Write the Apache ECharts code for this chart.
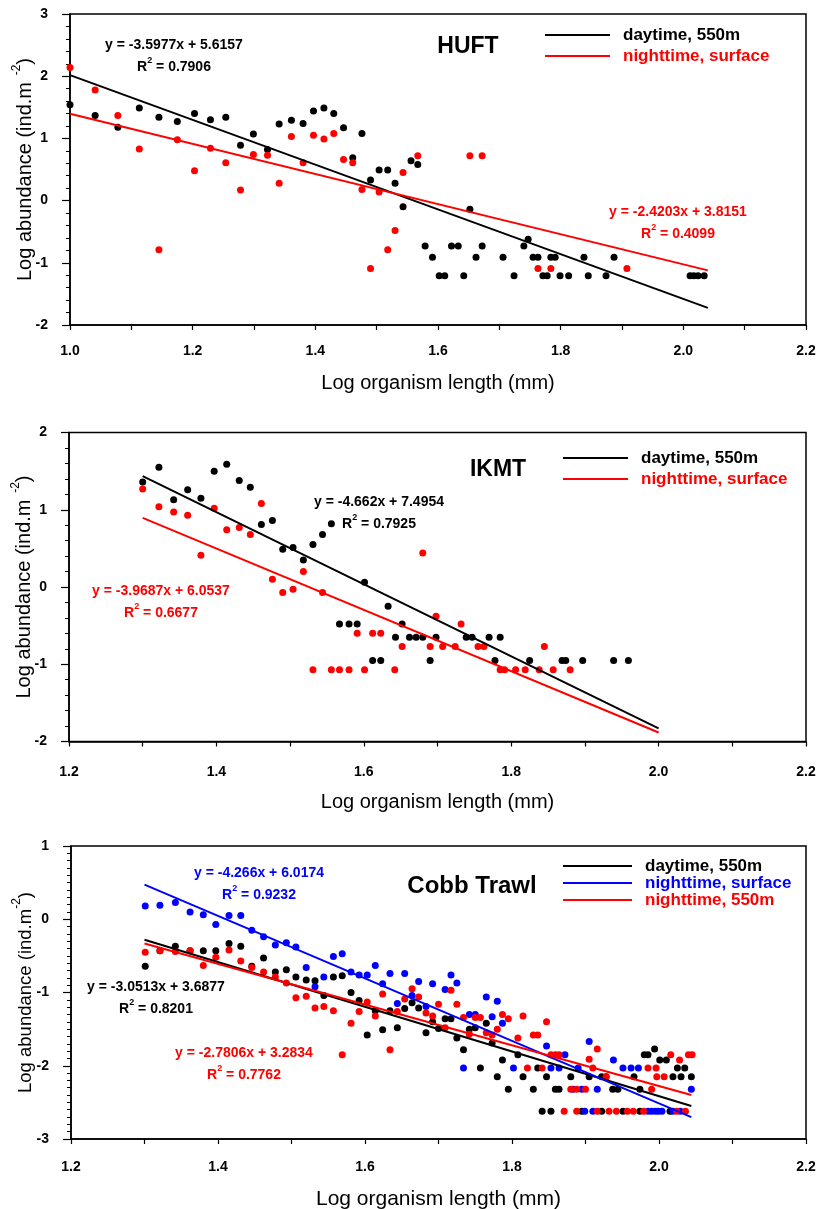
<!DOCTYPE html>
<html><head><meta charset="utf-8">
<script src="https://cdn.jsdelivr.net/npm/echarts@6/dist/echarts.min.js"></script>
<style>html,body{margin:0;padding:0;background:#fff}#c{width:822px;height:1209px}</style>
</head><body><div id="c"></div>
<script>
const FONT = '"Liberation Sans", Arial, sans-serif';
const BLACK = '#000000', RED = '#ff0000', BLUE = '#0000ff';

// ---------- tick labels / names ----------
const xTickLabels = ['1.0','1.2','1.4','1.6','1.8','2.0','2.2'];
const panelTitles = ['HUFT', 'IKMT', 'Cobb Trawl'];
const legendNames = ['daytime, 550m', 'nighttime, surface', 'nighttime, 550m'];

// ---------- HUFT ----------
const huftDay = [[1.000,1.54],[1.041,1.37],[1.078,1.18],[1.113,1.49],[1.145,1.34],[1.175,1.27],[1.203,1.40],[1.229,1.30],[1.254,1.34],[1.278,0.89],[1.299,1.07],[1.322,0.82],[1.341,1.23],[1.361,1.29],[1.380,1.24],[1.397,1.44],[1.414,1.49],[1.430,1.40],[1.446,1.17],[1.461,0.69],[1.476,1.08],[1.490,0.33],[1.504,0.49],[1.518,0.49],[1.530,0.28],[1.543,-0.10],[1.556,0.64],[1.567,0.58],[1.579,-0.73],[1.591,-0.91],[1.602,-1.21],[1.611,-1.21],[1.622,-0.73],[1.633,-0.73],[1.642,-1.21],[1.652,-0.14],[1.662,-0.91],[1.672,-0.73],[1.706,-0.91],[1.724,-1.21],[1.740,-0.73],[1.747,-0.62],[1.755,-0.91],[1.763,-0.91],[1.771,-1.21],[1.778,-1.21],[1.784,-0.91],[1.791,-0.91],[1.799,-1.21],[1.813,-1.21],[1.838,-0.91],[1.845,-1.21],[1.874,-1.21],[1.887,-0.91],[2.011,-1.21],[2.017,-1.21],[2.024,-1.21],[2.034,-1.21]];
const huftNight = [[1.000,2.14],[1.041,1.78],[1.078,1.37],[1.113,0.83],[1.145,-0.79],[1.175,0.98],[1.203,0.48],[1.229,0.84],[1.254,0.61],[1.278,0.17],[1.299,0.74],[1.322,0.73],[1.341,0.28],[1.361,1.03],[1.380,0.61],[1.397,1.05],[1.414,0.99],[1.430,1.08],[1.446,0.66],[1.461,0.61],[1.476,0.18],[1.490,-1.09],[1.504,0.14],[1.518,-0.79],[1.530,-0.48],[1.543,0.45],[1.567,0.72],[1.652,0.72],[1.672,0.72],[1.763,-1.09],[1.784,-1.09],[1.908,-1.09]];
const huftDayFit = [[1.00,2.018],[2.04,-1.724]];
const huftNightFit = [[1.00,1.395],[2.04,-1.122]];

// ---------- IKMT ----------
const ikmtDay = [[1.300,1.36],[1.322,1.55],[1.342,1.13],[1.361,1.26],[1.379,1.15],[1.397,1.50],[1.414,1.59],[1.431,1.38],[1.446,1.29],[1.461,0.81],[1.476,0.86],[1.490,0.49],[1.504,0.51],[1.518,0.35],[1.531,0.55],[1.544,0.68],[1.556,0.82],[1.567,-0.48],[1.580,-0.48],[1.591,-0.48],[1.601,0.06],[1.612,-0.95],[1.623,-0.95],[1.633,-0.25],[1.643,-0.65],[1.652,-0.48],[1.662,-0.65],[1.671,-0.65],[1.680,-0.65],[1.690,-0.95],[1.698,-0.65],[1.739,-0.65],[1.747,-0.65],[1.770,-0.65],[1.778,-0.95],[1.785,-0.65],[1.825,-0.95],[1.869,-0.95],[1.874,-0.95],[1.897,-0.95],[1.939,-0.95],[1.959,-0.95]];
const ikmtNight = [[1.300,1.27],[1.322,1.04],[1.342,0.97],[1.361,0.93],[1.379,0.41],[1.397,1.02],[1.414,0.74],[1.431,0.77],[1.446,0.68],[1.461,1.08],[1.476,0.10],[1.490,-0.07],[1.504,-0.03],[1.518,0.20],[1.531,-1.07],[1.544,-0.07],[1.556,-1.07],[1.567,-1.07],[1.580,-1.07],[1.591,-0.60],[1.601,-1.07],[1.612,-0.60],[1.623,-0.60],[1.642,-1.07],[1.652,-0.77],[1.680,0.44],[1.690,-0.77],[1.698,-0.38],[1.707,-0.77],[1.724,-0.77],[1.732,-0.48],[1.755,-0.77],[1.763,-0.77],[1.785,-1.07],[1.791,-1.07],[1.806,-1.07],[1.819,-1.07],[1.838,-1.07],[1.845,-0.77],[1.857,-1.07],[1.880,-1.07]];
const ikmtDayFit = [[1.30,1.435],[2.00,-1.829]];
const ikmtNightFit = [[1.30,0.894],[2.00,-1.884]];

// ---------- Cobb Trawl ----------
const cobbDay = [[1.301,-0.64],[1.321,-0.43],[1.342,-0.37],[1.362,-0.43],[1.380,-0.43],[1.397,-0.43],[1.415,-0.33],[1.431,-0.37],[1.446,-0.64],[1.462,-0.53],[1.478,-0.72],[1.493,-0.69],[1.506,-0.79],[1.520,-0.83],[1.532,-0.84],[1.544,-1.04],[1.557,-0.79],[1.569,-0.77],[1.581,-1.00],[1.592,-1.11],[1.603,-1.58],[1.614,-1.25],[1.624,-1.51],[1.634,-1.25],[1.644,-1.48],[1.654,-1.22],[1.664,-1.14],[1.673,-1.21],[1.683,-1.55],[1.692,-1.40],[1.700,-1.49],[1.709,-1.36],[1.717,-1.36],[1.725,-1.62],[1.734,-1.78],[1.742,-1.50],[1.750,-1.48],[1.757,-2.03],[1.765,-1.42],[1.773,-1.69],[1.780,-2.15],[1.787,-1.92],[1.795,-2.32],[1.808,-1.85],[1.815,-2.15],[1.829,-2.32],[1.835,-2.03],[1.841,-2.62],[1.847,-2.15],[1.853,-2.62],[1.859,-2.32],[1.864,-2.32],[1.880,-2.15],[1.895,-2.62],[1.905,-2.15],[1.922,-2.62],[1.922,-2.15],[1.928,-2.15],[1.937,-2.32],[1.944,-2.32],[1.951,-2.62],[1.966,-2.15],[1.974,-2.32],[1.974,-2.62],[1.980,-1.85],[1.985,-1.85],[1.994,-1.77],[2.001,-1.92],[2.010,-1.92],[2.015,-2.62],[2.019,-2.15],[2.025,-2.03],[2.030,-2.15],[2.035,-2.03],[2.044,-2.15]];
const cobbNightSurf = [[1.301,0.18],[1.321,0.19],[1.342,0.23],[1.362,0.10],[1.380,0.06],[1.397,-0.07],[1.415,0.05],[1.431,0.05],[1.446,-0.15],[1.462,-0.24],[1.478,-0.35],[1.493,-0.32],[1.506,-0.38],[1.520,-0.66],[1.532,-0.92],[1.544,-0.79],[1.557,-0.51],[1.569,-0.47],[1.581,-0.72],[1.592,-0.76],[1.603,-0.76],[1.614,-0.63],[1.624,-0.88],[1.634,-0.74],[1.644,-1.15],[1.654,-0.74],[1.664,-1.04],[1.673,-0.85],[1.683,-1.19],[1.692,-0.88],[1.709,-0.96],[1.717,-0.76],[1.725,-0.87],[1.734,-2.03],[1.742,-1.30],[1.750,-1.30],[1.765,-1.06],[1.773,-1.33],[1.780,-1.12],[1.787,-1.42],[1.802,-2.03],[1.847,-1.73],[1.853,-2.03],[1.864,-2.03],[1.872,-1.85],[1.883,-2.32],[1.890,-2.03],[1.895,-2.32],[1.899,-2.62],[1.905,-1.67],[1.910,-2.62],[1.916,-2.32],[1.938,-1.92],[1.951,-2.03],[1.962,-2.03],[1.972,-2.03],[1.985,-2.62],[1.990,-2.62],[1.995,-2.62],[1.999,-2.62],[2.004,-2.62],[2.019,-2.62],[2.029,-2.62],[2.044,-2.32]];
const cobbNight550 = [[1.301,-0.45],[1.321,-0.43],[1.342,-0.44],[1.362,-0.43],[1.380,-0.63],[1.397,-0.52],[1.415,-0.42],[1.431,-0.57],[1.446,-0.66],[1.462,-0.72],[1.478,-0.79],[1.493,-0.87],[1.506,-1.07],[1.520,-1.05],[1.532,-1.21],[1.544,-1.19],[1.557,-1.25],[1.569,-1.85],[1.581,-1.42],[1.592,-1.26],[1.603,-1.13],[1.614,-1.32],[1.624,-1.02],[1.634,-1.78],[1.644,-1.26],[1.654,-1.09],[1.664,-0.95],[1.673,-1.06],[1.683,-1.28],[1.692,-1.32],[1.700,-1.16],[1.709,-1.48],[1.717,-0.97],[1.725,-1.16],[1.734,-1.34],[1.742,-1.57],[1.750,-1.34],[1.757,-1.34],[1.765,-1.55],[1.773,-1.58],[1.780,-1.50],[1.787,-1.30],[1.795,-1.36],[1.808,-1.62],[1.815,-1.32],[1.821,-2.03],[1.829,-1.58],[1.835,-1.58],[1.841,-2.03],[1.847,-1.40],[1.853,-1.85],[1.859,-1.85],[1.864,-1.85],[1.871,-2.62],[1.880,-2.32],[1.888,-2.32],[1.888,-2.62],[1.900,-2.32],[1.905,-1.91],[1.910,-2.03],[1.916,-1.77],[1.916,-2.62],[1.928,-2.15],[1.932,-2.62],[1.942,-2.62],[1.957,-2.62],[1.965,-2.62],[1.979,-2.62],[1.985,-2.03],[1.990,-2.32],[1.996,-2.03],[1.997,-2.15],[2.007,-2.15],[2.016,-1.85],[2.024,-2.62],[2.028,-1.92],[2.036,-2.62],[2.040,-1.85],[2.045,-1.85]];
const cobbDayFit = [[1.30,-0.279],[2.044,-2.549]];
const cobbNightSurfFit = [[1.30,0.472],[2.044,-2.702]];
const cobbNight550Fit = [[1.30,-0.331],[2.044,-2.400]];

// ---------- equation annotations ----------
const equations = [
  {t:'y = -3.5977x + 5.6157', r:'0.7906', c:BLACK, x:174, y:45},
  {t:'y = -2.4203x + 3.8151', r:'0.4099', c:RED, x:678, y:212},
  {t:'y = -4.662x + 7.4954', r:'0.7925', c:BLACK, x:379, y:502},
  {t:'y = -3.9687x + 6.0537', r:'0.6677', c:RED, x:161, y:591},
  {t:'y = -4.266x + 6.0174', r:'0.9232', c:BLUE, x:259, y:873},
  {t:'y = -3.0513x + 3.6877', r:'0.8201', c:BLACK, x:156, y:987},
  {t:'y = -2.7806x + 3.2834', r:'0.7762', c:RED, x:244, y:1053}
];

const chart = echarts.init(document.getElementById('c'), null, {renderer:'canvas'});

const grids = [
  {left:70, top:14, width:736, height:311},
  {left:69, top:432.5, width:737, height:309},
  {left:71, top:846, width:735, height:293}
];
const yRanges = [[-2,3,5],[-2,2,5],[-3,1,10]];
const xMins = [1.0, 1.2, 1.2];
const xNameSizes = [20, 20, 21];
const yNameSizes = [20, 20, 18.5];
const xLabelMargins = [19, 24, 21];
const xNameGaps = [48, 51, 50];
const yNameGaps = [35, 35, 36];

function xFmt(v){ const k = Math.round(v*10); return k % 2 === 0 ? (k/10).toFixed(1) : ''; }

const xAxes = grids.map((g,i)=>({
  type:'value', gridIndex:i, min:xMins[i], max:2.2, interval:0.1,
  axisLine:{onZero:false, lineStyle:{color:BLACK, width:1.5}},
  axisTick:{length:5, lineStyle:{color:BLACK, width:1.2}},
  axisLabel:{formatter:xFmt, color:BLACK, fontFamily:FONT, fontWeight:'bold', fontSize:14, margin:xLabelMargins[i], showMinLabel:true, showMaxLabel:true},
  splitLine:{show:false},
  name:'Log organism length (mm)', nameLocation:'middle', nameGap:xNameGaps[i], nameMoveOverlap:false,
  nameTextStyle:{color:BLACK, fontFamily:FONT, fontSize:xNameSizes[i]}
}));
const yAxes = grids.map((g,i)=>({
  type:'value', gridIndex:i, min:yRanges[i][0], max:yRanges[i][1], interval:1,
  axisLine:{onZero:false, lineStyle:{color:BLACK, width:1.5}},
  axisTick:{length:8, lineStyle:{color:BLACK, width:1.2}},
  minorTick:{show:true, splitNumber:yRanges[i][2], length:4, lineStyle:{color:BLACK, width:1}},
  axisLabel:{color:BLACK, fontFamily:FONT, fontWeight:'bold', fontSize:14, margin:22},
  splitLine:{show:false}, minorSplitLine:{show:false},
  name: i<2 ? '{a|Log abundance (ind.m}{s|  -2}{a|)}' : '{a|Log abundance (ind.m}{s|-2}{a|)}',
  nameLocation:'middle', nameGap: yNameGaps[i], nameRotate:90, nameMoveOverlap:false,
  nameTextStyle:{color:BLACK, fontFamily:FONT, rich:{
    a:{fontSize:yNameSizes[i], fontFamily:FONT, color:BLACK, lineHeight:24, verticalAlign:'bottom'},
    s:{fontSize:12, fontFamily:FONT, color:BLACK, lineHeight:14, verticalAlign:'top'}
  }}
}));

function scatter(name, data, color, gi){
  return {type:'scatter', name, data, xAxisIndex:gi, yAxisIndex:gi, symbolSize:7,
    itemStyle:{color, opacity:1}, z:2, silent:true};
}
function fit(name, data, color, gi){
  return {type:'line', name, data, xAxisIndex:gi, yAxisIndex:gi, showSymbol:false, symbol:'none',
    lineStyle:{color, width:2}, itemStyle:{color}, z:3, silent:true};
}

const series = [
  scatter('HUFT day pts', huftDay, BLACK, 0),
  scatter('HUFT night pts', huftNight, RED, 0),
  fit(legendNames[0], huftDayFit, BLACK, 0),
  fit(legendNames[1], huftNightFit, RED, 0),
  scatter('IKMT day pts', ikmtDay, BLACK, 1),
  scatter('IKMT night pts', ikmtNight, RED, 1),
  fit(legendNames[0], ikmtDayFit, BLACK, 1),
  fit(legendNames[1], ikmtNightFit, RED, 1),
  scatter('Cobb day pts', cobbDay, BLACK, 2),
  scatter('Cobb surf pts', cobbNightSurf, BLUE, 2),
  scatter('Cobb 550 pts', cobbNight550, RED, 2),
  fit(legendNames[0], cobbDayFit, BLACK, 2),
  fit(legendNames[1], cobbNightSurfFit, BLUE, 2),
  fit(legendNames[2], cobbNight550Fit, RED, 2)
];

function legendItem(name, color){
  return {name, icon:'rect', itemStyle:{color}, lineStyle:{color}, textStyle:{color}};
}
const legTextStyle = (lh)=>({fontFamily:FONT, fontWeight:'bold', fontSize:17, lineHeight:lh, padding:[3,0,0,8]});
const legends = [
  {left:540, top:18.5, orient:'vertical', itemWidth:65, itemHeight:2, itemGap:-2, selectedMode:false,
    textStyle:legTextStyle(20), data:[legendItem(legendNames[0],BLACK), legendItem(legendNames[1],RED)]},
  {left:558, top:441.5, orient:'vertical', itemWidth:65, itemHeight:2, itemGap:-2, selectedMode:false,
    textStyle:legTextStyle(20), data:[legendItem(legendNames[0],BLACK), legendItem(legendNames[1],RED)]},
  {left:558, top:851, orient:'vertical', itemWidth:69, itemHeight:2, itemGap:-3, selectedMode:false,
    textStyle:legTextStyle(17), data:[legendItem(legendNames[0],BLACK), legendItem(legendNames[1],BLUE), legendItem(legendNames[2],RED)]}
];

const graphics = [];
const titlePos = [[468,47,23],[498,470,23],[472,886,24]];
panelTitles.forEach((t,i)=>graphics.push({type:'text', x:titlePos[i][0], y:titlePos[i][1], z:10,
  style:{text:t, fill:BLACK, font:'bold '+titlePos[i][2]+'px '+FONT, textAlign:'center', textVerticalAlign:'middle'}}));
equations.forEach(e=>{
  graphics.push({type:'text', x:e.x, y:e.y, z:10, style:{text:e.t, fill:e.c, font:'bold 14px '+FONT, textAlign:'center', textVerticalAlign:'middle'}});
  graphics.push({type:'text', x:e.x, y:e.y+20.5, z:10, style:{text:'{a|R}{s|2}{a| = '+e.r+'}', fill:e.c, textAlign:'center', textVerticalAlign:'middle',
    rich:{a:{font:'bold 14px '+FONT, fill:e.c, lineHeight:18, verticalAlign:'bottom'}, s:{font:'bold 9px '+FONT, fill:e.c, lineHeight:10, verticalAlign:'top'}}}});
});

chart.setOption({
  animation:false,
  backgroundColor:'#ffffff',
  grid: grids.map(g=>Object.assign({show:true, borderColor:BLACK, borderWidth:1.5, backgroundColor:'transparent', containLabel:false, outerBoundsMode:'none'}, g)),
  xAxis:xAxes, yAxis:yAxes, legend:legends, series, graphic:graphics
});
</script></body></html>
